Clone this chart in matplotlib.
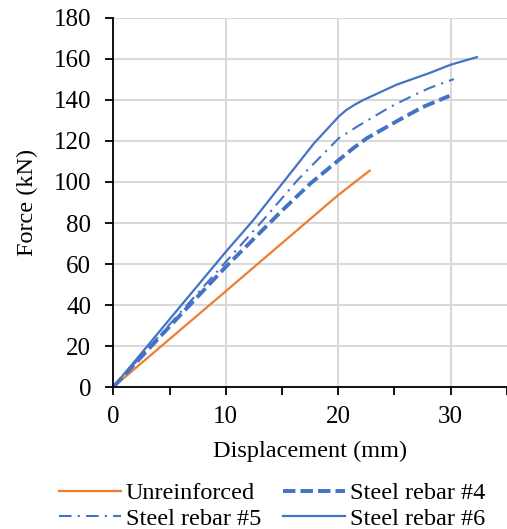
import matplotlib.pyplot as plt
from matplotlib.ticker import MultipleLocator

plt.rcParams['font.family'] = ['Liberation Serif', 'DejaVu Serif']

# Force-displacement curves
unrein_x = [0, 10, 20, 22.8]
unrein_y = [0, 46.7, 93.6, 105.5]

rebar4_x = [0, 5, 10, 15, 17.56, 20.05, 21.3, 22.54, 25.17, 27.5, 29.9]
rebar4_y = [0, 29.5, 58.6, 86.0, 99.4, 110.7, 116.3, 121.3, 129.5, 136.5, 142.0]

rebar5_x = [0, 5, 10, 13.47, 16.4, 20.05, 21.8, 24.6, 26.6, 28.1, 30.3]
rebar5_y = [0, 30.5, 61.0, 82.3, 101.0, 121.3, 127.4, 136.5, 142.0, 145.8, 150.2]

rebar6_x = [0, 5, 10, 12.44, 17.86, 20.05, 20.7, 21.5, 22.25, 25.17, 28.1, 30.06, 32.34]
rebar6_y = [0, 33.0, 65.9, 81.3, 118.9, 131.9, 135.0, 137.8, 140.0, 147.4, 153.1, 157.3, 160.9]

blue = '#4472C4'
orange = '#ED7D31'

fig = plt.figure(figsize=(5.07, 5.29), dpi=100)
ax = fig.add_axes([0.2235, 0.2684, 0.776, 0.6976])

ax.plot(unrein_x, unrein_y, color=orange, lw=1.6, label='Unreinforced')
ax.plot(rebar4_x, rebar4_y, color=blue, lw=2.8, dashes=(3.2, 1.3), label='Steel rebar #4')
ax.plot(rebar5_x, rebar5_y, color=blue, lw=1.5, dashes=(6, 3, 1, 3), label='Steel rebar #5')
ax.plot(rebar6_x, rebar6_y, color=blue, lw=1.6, label='Steel rebar #6')

ax.set_xlim(0, 35)
ax.set_ylim(0, 180)
ax.xaxis.set_major_locator(MultipleLocator(10))
ax.xaxis.set_minor_locator(MultipleLocator(5))
ax.yaxis.set_major_locator(MultipleLocator(20))
ax.grid(True, which='major', color='#d9d9d9', lw=1.5)
ax.set_axisbelow(True)
for s in ['top', 'right']:
    ax.spines[s].set_visible(False)
for s in ['left', 'bottom']:
    ax.spines[s].set_linewidth(1.3)
ax.tick_params(axis='both', which='both', direction='out', labelsize=18, width=1.3, color='black')
ax.tick_params(axis='x', which='major', length=6, pad=8)
ax.tick_params(axis='x', which='minor', length=6)
ax.tick_params(axis='y', length=6, pad=10)

ax.set_xlabel('Displacement (mm)', fontsize=17.5, labelpad=9)
ax.set_ylabel('Force (kN)', fontsize=17.5, labelpad=11)

handles, labels = ax.get_legend_handles_labels()
# matplotlib fills legend columns first, so reorder to read row-wise
order = [0, 2, 1, 3]
fig.legend([handles[i] for i in order], [labels[i] for i in order],
           loc='lower center', bbox_to_anchor=(0.537, -0.043), ncol=2,
           frameon=False, fontsize=17.5, handlelength=2.55, handletextpad=0.2,
           columnspacing=0.9, labelspacing=0.14)

fig.savefig('out.png', dpi=100)
